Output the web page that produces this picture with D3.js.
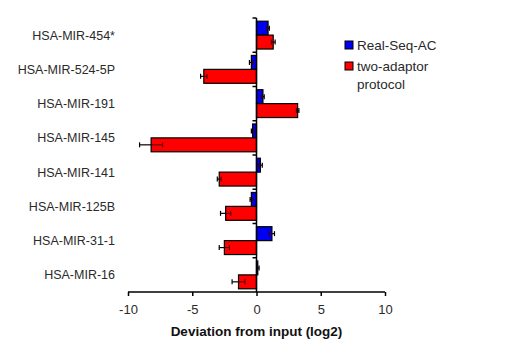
<!DOCTYPE html>
<html><head><meta charset="utf-8">
<script src="https://cdn.jsdelivr.net/npm/d3@7"></script>
<style>body{margin:0;background:#fff}svg{display:block}</style>
</head><body>
<svg id="c" width="524" height="359"></svg>
<script>
const categories = ["HSA-MIR-454*","HSA-MIR-524-5P","HSA-MIR-191","HSA-MIR-145","HSA-MIR-141","HSA-MIR-125B","HSA-MIR-31-1","HSA-MIR-16"];
const realSeq = [0.9,-0.4,0.5,-0.3,0.3,-0.4,1.2,0.1];
const realSeqErr = [0.1,0.15,0.1,0.1,0.15,0.1,0.2,0.1];
const twoAdaptor = [1.3,-4.1,3.2,-8.2,-2.9,-2.4,-2.5,-1.4];
const twoAdaptorErr = [0.15,0.25,0.1,0.9,0.15,0.4,0.4,0.5];
const xTicks = [-10,-5,0,5,10];
const seriesNames = ["Real-Seq-AC","two-adaptor protocol"];

const svg = d3.select("#c");
const font = "Arial, 'Liberation Sans', sans-serif";
const x = d3.scaleLinear().domain([-10,10]).range([128,385]);
const y = d3.scaleBand().domain(categories).range([18,292]);
const inner = d3.scaleBand().domain([0,1]).range([0,y.bandwidth()]).paddingInner(0).paddingOuter(0.23);

// bars
const series = [
  {vals: realSeq, err: realSeqErr, color:"#0000f0"},
  {vals: twoAdaptor, err: twoAdaptorErr, color:"#ff0000"}
];
series.forEach((s,si)=>{
  const g = svg.append("g");
  categories.forEach((c,i)=>{
    const v = s.vals[i];
    const y0 = y(c)+inner(si), h = inner.bandwidth();
    g.append("rect").attr("x", Math.min(x(0),x(v))).attr("y", y0)
      .attr("width", Math.abs(x(v)-x(0))).attr("height", h)
      .attr("fill", s.color).attr("stroke","#000").attr("stroke-width",1.2);
    const e = v>=0 ? v+s.err[i] : v-s.err[i];
    const ym = y0+h/2;
    g.append("line").attr("x1",x(v)).attr("x2",x(e)).attr("y1",ym).attr("y2",ym)
      .attr("stroke","#000").attr("stroke-width",1.2);
    g.append("line").attr("x1",x(e)).attr("x2",x(e)).attr("y1",ym-2.5).attr("y2",ym+2.5)
      .attr("stroke","#000").attr("stroke-width",1.2);
    const ei = v>=0 ? v-s.err[i] : v+s.err[i];
    g.append("line").attr("x1",x(v)).attr("x2",x(ei)).attr("y1",ym).attr("y2",ym)
      .attr("stroke","#400").attr("stroke-width",1);
    g.append("line").attr("x1",x(ei)).attr("x2",x(ei)).attr("y1",ym-2.5).attr("y2",ym+2.5)
      .attr("stroke","#400").attr("stroke-width",1);
  });
});

// y axis line with ticks at band boundaries
const ya = svg.append("g");
ya.append("line").attr("x1",x(0)).attr("x2",x(0)).attr("y1",18).attr("y2",292)
  .attr("stroke","#000").attr("stroke-width",1.5);
categories.map(c=>y(c)).forEach(b=>{
  ya.append("line").attr("x1",x(0)-4).attr("x2",x(0)).attr("y1",b).attr("y2",b)
    .attr("stroke","#000").attr("stroke-width",1.5);
});
categories.forEach(c=>{
  ya.append("text").attr("x",115).attr("y",y(c)+y.bandwidth()/2+4.5)
    .attr("text-anchor","end").attr("font-family",font).attr("font-size",12.5)
    .attr("fill","#2a2a2a").text(c);
});

// x axis
const xa = svg.append("g").attr("transform","translate(0,292)")
  .call(d3.axisBottom(x).tickValues(xTicks).tickSize(4).tickPadding(9).tickFormat(d=>String(d)));
xa.select(".domain").attr("stroke-width",1.5).attr("d",`M${x(-10)},0H${x(10)}`);
xa.selectAll(".tick line").attr("stroke-width",1.5);
xa.selectAll(".tick text").attr("font-family",font).attr("font-size",13).attr("fill","#2a2a2a");

svg.append("text").attr("x",x(0)).attr("y",336).attr("text-anchor","middle")
  .attr("font-family",font).attr("font-size",13.5).attr("font-weight","bold").attr("fill","#111")
  .text("Deviation from input (log2)");

// legend
const lg = svg.append("g");
lg.append("rect").attr("x",345).attr("y",41).attr("width",8).attr("height",8)
  .attr("fill","#0000f0").attr("stroke","#000");
lg.append("text").attr("x",357).attr("y",50).attr("font-family",font).attr("font-size",13.5).attr("fill","#2a2a2a").text(seriesNames[0]);
lg.append("rect").attr("x",345).attr("y",62).attr("width",8).attr("height",8)
  .attr("fill","#ff0000").attr("stroke","#000");
const t2 = lg.append("text").attr("y",71).attr("font-family",font).attr("font-size",13.5).attr("fill","#2a2a2a");
t2.append("tspan").attr("x",357).text("two-adaptor");
t2.append("tspan").attr("x",357).attr("dy",18).text("protocol");
</script>
</body></html>
